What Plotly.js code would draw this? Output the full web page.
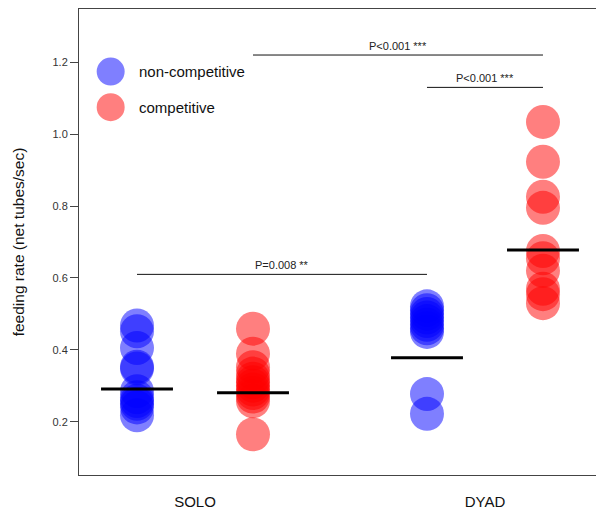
<!DOCTYPE html>
<html>
<head>
<meta charset="utf-8">
<script src="https://cdn.plot.ly/plotly-3.0.1.min.js"></script>
<style>html,body{margin:0;padding:0;background:#fff;}#chart{width:596px;height:512px;}</style>
</head>
<body>
<div id="chart"></div>
<script>
// ---- data ----
var groupLabels = ['SOLO', 'DYAD'];
var groupLabelPos = [1.5, 4.0];
var conditionPos = { soloNon: 1, soloComp: 2, dyadNon: 3.5, dyadComp: 4.5 };

var soloNonCompetitive = [0.468, 0.452, 0.405, 0.353, 0.348, 0.285, 0.268, 0.258, 0.25, 0.24, 0.218];
var soloCompetitive    = [0.459, 0.389, 0.352, 0.334, 0.32, 0.31, 0.3, 0.29, 0.28, 0.27, 0.257, 0.165];
var dyadNonCompetitive = [0.521, 0.51, 0.5, 0.49, 0.48, 0.47, 0.46, 0.45, 0.277, 0.222];
var dyadCompetitive    = [1.034, 0.923, 0.826, 0.795, 0.675, 0.655, 0.62, 0.57, 0.555, 0.53];

var centerLinePos    = [1, 2, 3.5, 4.5];
var centerLineValues = [0.291, 0.281, 0.378, 0.678];

var sigFrom   = [2, 3.5, 1];
var sigTo     = [4.5, 4.5, 3.5];
var sigLevel  = [1.22, 1.13, 0.61];
var sigLabels = ['P<0.001 ***', 'P<0.001 ***', 'P=0.008 **'];

var yTicks = [0.2, 0.4, 0.6, 0.8, 1.0, 1.2];
var yTickText = ['0.2', '0.4', '0.6', '0.8', '1.0', '1.2'];

var legendNames = ['non-competitive', 'competitive'];
// ---- styling ----
var BLUE = 'rgba(0,0,255,0.5)';
var RED = 'rgba(255,0,0,0.5)';
var FONT = 'Liberation Sans, Arial, sans-serif';

function pts(pos, vals, color, name) {
  return {
    type: 'scatter', mode: 'markers', name: name, showlegend: false,
    x: vals.map(function(){ return pos; }), y: vals,
    marker: { size: 34, color: color, line: { width: 0 } },
    hoverinfo: 'y', cliponaxis: false
  };
}

var traces = [
  pts(conditionPos.soloNon, soloNonCompetitive, BLUE, legendNames[0]),
  pts(conditionPos.soloComp, soloCompetitive, RED, legendNames[1]),
  pts(conditionPos.dyadNon, dyadNonCompetitive, BLUE, legendNames[0]),
  pts(conditionPos.dyadComp, dyadCompetitive, RED, legendNames[1])
];

var shapes = [];
var annotations = [];
for (var i = 0; i < centerLinePos.length; i++) {
  shapes.push({ type: 'line', xref: 'x', yref: 'y',
    x0: centerLinePos[i] - 0.31, x1: centerLinePos[i] + 0.31,
    y0: centerLineValues[i], y1: centerLineValues[i],
    line: { color: '#000', width: 3 } });
}
for (var j = 0; j < sigFrom.length; j++) {
  shapes.push({ type: 'line', xref: 'x', yref: 'y',
    x0: sigFrom[j], x1: sigTo[j], y0: sigLevel[j], y1: sigLevel[j],
    line: { color: '#111', width: 1 } });
  annotations.push({ xref: 'x', yref: 'y', x: (sigFrom[j] + sigTo[j]) / 2, y: sigLevel[j],
    text: sigLabels[j], showarrow: false, yanchor: 'bottom', yshift: 1,
    font: { family: FONT, size: 11, color: '#222' } });
}
// legend drawn manually (large circles)
var legendY = [1.174, 1.075];
var legendColors = [BLUE, RED];
for (var k = 0; k < legendNames.length; k++) {
  shapes.push({ type: 'circle', xref: 'x', yref: 'y', xsizemode: 'pixel', ysizemode: 'pixel',
    xanchor: 0.773, yanchor: legendY[k], x0: -14, x1: 14, y0: -14, y1: 14,
    fillcolor: legendColors[k], line: { width: 0 } });
  annotations.push({ xref: 'x', yref: 'y', x: 0.773, y: legendY[k], xshift: 26,
    text: legendNames[k], showarrow: false, xanchor: 'left', yanchor: 'middle',
    font: { family: FONT, size: 15, color: '#111' } });
}

var layout = {
  width: 596, height: 512,
  margin: { l: 79, r: 0, t: 9, b: 37, pad: 0 },
  paper_bgcolor: '#fff', plot_bgcolor: '#fff',
  showlegend: false,
  font: { family: FONT, color: '#222' },
  xaxis: {
    range: [0.5, 4.957], showgrid: false, zeroline: false,
    showline: true, mirror: true, linecolor: '#444', linewidth: 1,
    tickvals: groupLabelPos, ticktext: groupLabels, ticks: '',
    tickfont: { family: FONT, size: 15, color: '#111' }, ticklabelstandoff: 13
  },
  yaxis: {
    range: [0.052, 1.348], showgrid: false, zeroline: false,
    showline: true, linecolor: '#444', linewidth: 1,
    tickvals: yTicks, ticktext: yTickText, ticks: 'outside', ticklen: 8, tickcolor: '#444',
    tickfont: { family: FONT, size: 11, color: '#333' },
    title: { text: 'feeding rate (net tubes/sec)', font: { family: FONT, size: 15.5, color: '#111' }, standoff: 24 }
  },
  shapes: shapes,
  annotations: annotations
};

Plotly.newPlot('chart', traces, layout, { displayModeBar: false, staticPlot: true });
</script>
</body>
</html>
